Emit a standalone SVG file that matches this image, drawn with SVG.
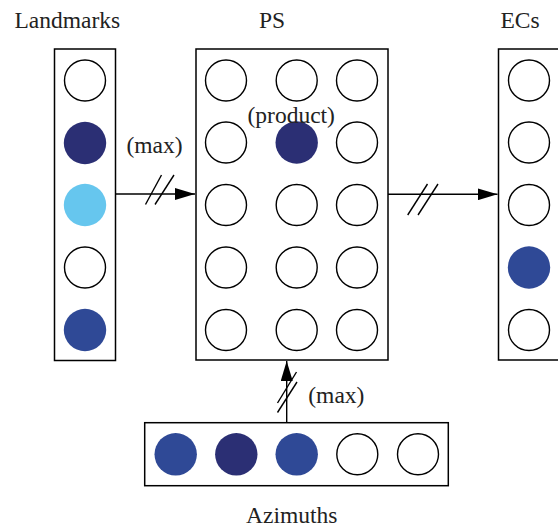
<svg xmlns="http://www.w3.org/2000/svg" width="558" height="527" viewBox="0 0 558 527">
<defs>
<style>
.box{fill:#fff;stroke:#000;stroke-width:1.5}
.c{fill:#fff;stroke:#000;stroke-width:1.4}
.dark{fill:#2b2f74;stroke:none}
.mid{fill:#2f4996;stroke:none}
.light{fill:#66c6ee;stroke:none}
.t{font-family:"Liberation Serif","Times New Roman",serif;font-size:23.5px;fill:#222}
.ln{stroke:#000;stroke-width:1.4;fill:none}
</style>
<marker id="ah" viewBox="0 0 20 12" refX="20" refY="6" markerWidth="20" markerHeight="12" markerUnits="userSpaceOnUse" orient="auto">
<path d="M0,0 L20,6 L0,12 Z" fill="#000"/>
</marker>
</defs>
<rect width="558" height="527" fill="#fff"/>

<g id="landmarks">
<rect class="box" x="54.5" y="49" width="61" height="311.5"/>
<circle class="c" cx="85" cy="80.5" r="20.5"/>
<circle class="dark" cx="85" cy="143" r="21.2"/>
<circle class="light" cx="85" cy="205" r="21.2"/>
<circle class="c" cx="85" cy="267.5" r="20.5"/>
<circle class="mid" cx="85" cy="330" r="21.2"/>
<text class="t" x="14.5" y="28.3">Landmarks</text>
</g>

<g id="ps">
<rect class="box" x="196" y="49" width="192" height="311"/>
<circle class="c" cx="226" cy="80.5" r="20.5"/>
<circle class="c" cx="296.7" cy="80.5" r="20.5"/>
<circle class="c" cx="357" cy="80.5" r="20.5"/>
<circle class="c" cx="226" cy="142.5" r="20.5"/>
<circle class="dark" cx="296.7" cy="142.5" r="21.2"/>
<circle class="c" cx="357" cy="142.5" r="20.5"/>
<circle class="c" cx="226" cy="205" r="20.5"/>
<circle class="c" cx="296.7" cy="205" r="20.5"/>
<circle class="c" cx="357" cy="205" r="20.5"/>
<circle class="c" cx="226" cy="267.5" r="20.5"/>
<circle class="c" cx="296.7" cy="267.5" r="20.5"/>
<circle class="c" cx="357" cy="267.5" r="20.5"/>
<circle class="c" cx="226" cy="330" r="20.5"/>
<circle class="c" cx="296.7" cy="330" r="20.5"/>
<circle class="c" cx="357" cy="330" r="20.5"/>
<text class="t" x="259" y="28.3">PS</text>
<text class="t" x="247.5" y="123.3">(product)</text>
</g>

<g id="ecs">
<rect class="box" x="498.5" y="49" width="70" height="311"/>
<circle class="c" cx="529" cy="80.5" r="20.5"/>
<circle class="c" cx="529" cy="142.5" r="20.5"/>
<circle class="c" cx="529" cy="205" r="20.5"/>
<circle class="mid" cx="529" cy="267.5" r="21.2"/>
<circle class="c" cx="529" cy="330" r="20.5"/>
<text class="t" x="500.5" y="28.3">ECs</text>
</g>

<g id="azimuths">
<rect class="box" x="144.7" y="422.7" width="303.6" height="63"/>
<circle class="mid" cx="175.7" cy="454.3" r="21.2"/>
<circle class="dark" cx="236.3" cy="454.3" r="21.2"/>
<circle class="mid" cx="296.7" cy="454.3" r="21.2"/>
<circle class="c" cx="357.3" cy="454.3" r="20.5"/>
<circle class="c" cx="418" cy="454.3" r="20.5"/>
<text class="t" x="246" y="523.3">Azimuths</text>
</g>

<g id="connectors">
<line class="ln" x1="115.5" y1="194" x2="195" y2="194" marker-end="url(#ah)"/>
<line class="ln" x1="145.5" y1="204.5" x2="161.5" y2="175"/>
<line class="ln" x1="155" y1="204.5" x2="174" y2="175"/>
<text class="t" x="126.5" y="153">(max)</text>

<line class="ln" x1="388" y1="194.3" x2="497.5" y2="194.3" marker-end="url(#ah)"/>
<line class="ln" x1="407.7" y1="215" x2="427.5" y2="184"/>
<line class="ln" x1="418" y1="215" x2="438" y2="184"/>

<line class="ln" x1="286.7" y1="422.7" x2="286.7" y2="361" marker-end="url(#ah)"/>
<line class="ln" x1="277.5" y1="403" x2="296.5" y2="372"/>
<line class="ln" x1="277.5" y1="412.5" x2="297" y2="382"/>
<text class="t" x="308.3" y="402.7">(max)</text>
</g>
</svg>
